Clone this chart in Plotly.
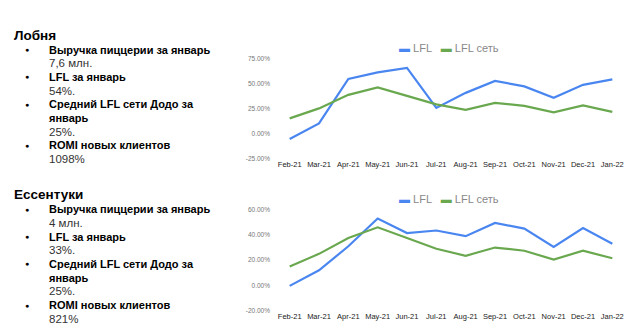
import plotly.graph_objects as go

months = ["Feb-21", "Mar-21", "Apr-21", "May-21", "Jun-21", "Jul-21",
          "Aug-21", "Sep-21", "Oct-21", "Nov-21", "Dec-21", "Jan-22"]

lobnya_lfl = [-5.5, 10, 54.5, 61, 65.5, 25.5, 40.5, 52.5, 47, 35.5, 48.5, 54]
lobnya_net = [15, 25, 38.5, 46, 37.5, 29, 23.5, 30.5, 27.5, 21, 28, 21.5]

essentuki_lfl = [-0.3, 12, 31, 53, 41.5, 43.5, 39, 49.5, 45, 30.5, 45.5, 33]
essentuki_net = [15, 25, 37.5, 46, 37.5, 29, 23.5, 30, 27.5, 20.5, 27.5, 21.5]

top_ticks = [-25, 0, 25, 50, 75]
top_tick_text = ["-25.00%", "0.00%", "25.00%", "50.00%", "75.00%"]
bot_ticks = [-20, 0, 20, 40, 60]
bot_tick_text = ["-20.00%", "0.00%", "20.00%", "40.00%", "60.00%"]

blocks = [
    ("Лобня", [("Выручка пиццерии за январь", None, "7,6 млн."),
               ("LFL за январь", None, "54%."),
               ("Средний LFL сети Додо за", "январь", "25%."),
               ("ROMI новых клиентов", None, "1098%")]),
    ("Ессентуки", [("Выручка пиццерии за январь", None, "4 млн."),
                   ("LFL за январь", None, "33%."),
                   ("Средний LFL сети Додо за", "январь", "25%."),
                   ("ROMI новых клиентов", None, "821%")]),
]

BLUE = "#4a86f0"
GREEN = "#6aa84f"
W, H = 629, 336
FONT = "Liberation Sans, Arial, sans-serif"

def py(px):
    return 1 - px / H

fig = go.Figure()
fig.add_trace(go.Scatter(x=months, y=lobnya_lfl, mode="lines", line=dict(color=BLUE, width=2.2),
                         xaxis="x", yaxis="y", showlegend=False))
fig.add_trace(go.Scatter(x=months, y=lobnya_net, mode="lines", line=dict(color=GREEN, width=2.2),
                         xaxis="x", yaxis="y", showlegend=False))
fig.add_trace(go.Scatter(x=months, y=essentuki_lfl, mode="lines", line=dict(color=BLUE, width=2.2),
                         xaxis="x2", yaxis="y2", showlegend=False))
fig.add_trace(go.Scatter(x=months, y=essentuki_net, mode="lines", line=dict(color=GREEN, width=2.2),
                         xaxis="x2", yaxis="y2", showlegend=False))

xdom = [275 / W, 627 / W]
axis_x = dict(domain=xdom, range=[-0.5, 11.5], showgrid=False, zeroline=False, showline=False,
              tickfont=dict(family=FONT, size=7.5, color="#222"), ticks="", fixedrange=True)
axis_y = dict(showgrid=False, zeroline=False, tickmode="array", ticklabelstandoff=4,
              tickfont=dict(family=FONT, size=6.5, color="#777"))
fig.update_layout(
    width=W, height=H, autosize=False,
    margin=dict(l=0, r=0, t=0, b=0),
    paper_bgcolor="white", plot_bgcolor="white",
    xaxis=dict(axis_x, anchor="y"),
    xaxis2=dict(axis_x, anchor="y2"),
    yaxis=dict(axis_y, domain=[py(157.7), py(55.5)], range=[-25, 75], tickvals=top_ticks,
               ticktext=top_tick_text, anchor="x"),
    yaxis2=dict(axis_y, domain=[py(313.3), py(210)], range=[-20, 60], tickvals=bot_ticks,
                ticktext=bot_tick_text, anchor="x2"),
)

ann = []
# legends
for ly in (45, 199):
    ann.append(dict(xref="paper", yref="paper", x=449 / W, y=py(ly), xanchor="center", yanchor="middle",
                    showarrow=False,
                    text=f'<span style="color:{BLUE}">▬</span> LFL   <span style="color:{GREEN}">▬</span> LFL сеть',
                    font=dict(family=FONT, size=11, color="#888")))

# left texts
starts = [32, 195]
for (title, items), y0 in zip(blocks, starts):
    ann.append(dict(xref="paper", yref="paper", x=12 / W, y=py(y0), xanchor="left", yanchor="middle",
                    showarrow=False, text=f"<b>{title}</b>", font=dict(family=FONT, size=13.5, color="#000")))
    y = y0 + 14.5
    for head, head2, val in items:
        ann.append(dict(xref="paper", yref="paper", x=27 / W, y=py(y), xanchor="center", yanchor="middle",
                        showarrow=False, text="●", font=dict(family=FONT, size=7, color="#000")))
        ann.append(dict(xref="paper", yref="paper", x=47 / W, y=py(y), xanchor="left", yanchor="middle",
                        showarrow=False, text=f"<b>{head}</b>", font=dict(family=FONT, size=11, color="#000")))
        y += 14
        if head2:
            ann.append(dict(xref="paper", yref="paper", x=47 / W, y=py(y), xanchor="left", yanchor="middle",
                            showarrow=False, text=f"<b>{head2}</b>", font=dict(family=FONT, size=11, color="#000")))
            y += 14
        ann.append(dict(xref="paper", yref="paper", x=47 / W, y=py(y), xanchor="left", yanchor="middle",
                        showarrow=False, text=val, font=dict(family=FONT, size=11.5, color="#333")))
        y += 14
fig.update_layout(annotations=ann)

fig.write_html("out.html")
